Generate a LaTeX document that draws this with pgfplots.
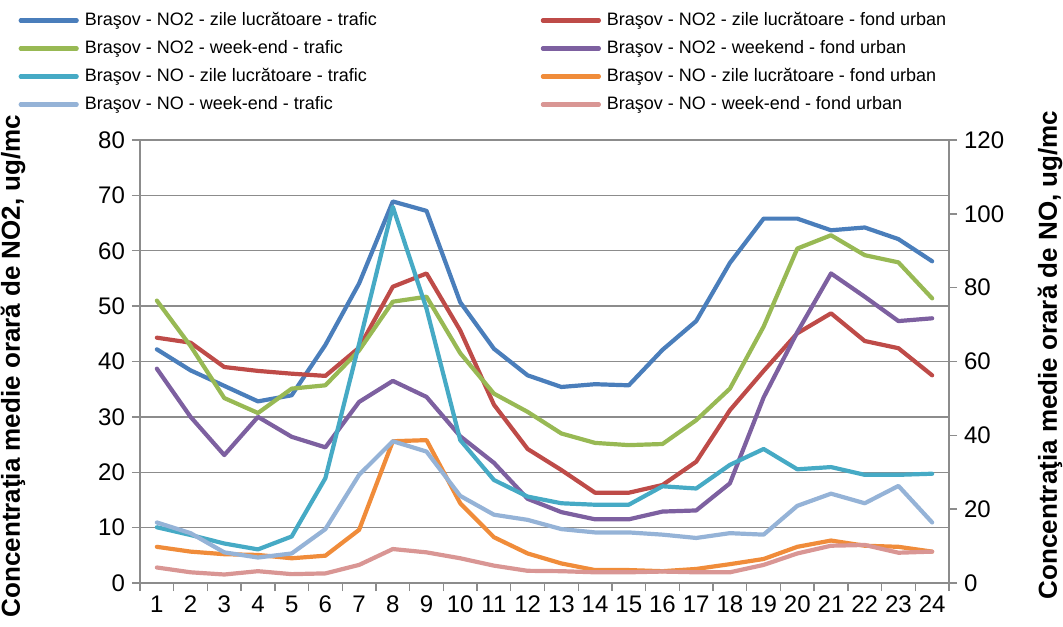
\documentclass[border=0pt]{standalone}
\usepackage{fontspec}
\setmainfont{Liberation Sans}
\usepackage{pgfplots}
\pgfplotsset{compat=1.18}
\definecolor{cBlue}{HTML}{4A7EBB}
\definecolor{cRed}{HTML}{BE4B48}
\definecolor{cGreen}{HTML}{98B954}
\definecolor{cPurple}{HTML}{7D60A0}
\definecolor{cCyan}{HTML}{46AAC5}
\definecolor{cOrange}{HTML}{F08C3A}
\definecolor{cLBlue}{HTML}{95B3D7}
\definecolor{cPink}{HTML}{D99694}
\definecolor{gridgray}{HTML}{8C8C8C}
\begin{document}
\begin{tikzpicture}
\pgfplotsset{
  every axis/.append style={
    scale only axis, width=404.5pt, height=221.5pt,
    xmin=0.5, xmax=24.5,
    /pgf/number format/assume math mode=true,
    tick label style={font=\fontsize{12}{14}\selectfont},
    label style={font=\bfseries\fontsize{13}{15}\selectfont},
    axis line style={color=gridgray, line width=0.7pt},
    tick style={color=gridgray, line width=0.7pt},
    major tick length=4pt,
    tick align=outside,
  },
  ser/.style={line width=2.1pt, line join=round, line cap=round},
}
\begin{axis}[
  ymin=0, ymax=80, ytick={0,10,...,80},
  axis x line*=bottom, axis y line*=left,
  ymajorgrids, grid style={color=gridgray, line width=0.7pt},
  xtick={0.5,1.5,...,24.5}, xticklabels={},
  extra x ticks={1,2,...,24},
  extra x tick style={major tick length=0pt, tick label style={yshift=-3pt}},
  ylabel={Concentraţia medie orară de NO2, ug/mc},
  ylabel style={at={(rel axis cs:-0.157,0.49)}, anchor=center},
]
\addplot[ser, cBlue] coordinates {(1,42.2)(2,38.4)(3,35.6)(4,32.8)(5,33.9)(6,43.0)(7,54.1)(8,68.9)(9,67.2)(10,50.7)(11,42.3)(12,37.5)(13,35.4)(14,35.9)(15,35.7)(16,42.1)(17,47.3)(18,57.8)(19,65.8)(20,65.8)(21,63.7)(22,64.2)(23,62.1)(24,58.1)};
\addplot[ser, cRed] coordinates {(1,44.3)(2,43.4)(3,39.0)(4,38.3)(5,37.8)(6,37.4)(7,42.5)(8,53.5)(9,55.9)(10,45.6)(11,32.2)(12,24.2)(13,20.4)(14,16.3)(15,16.3)(16,17.7)(17,21.9)(18,31.2)(19,38.3)(20,45.1)(21,48.7)(22,43.7)(23,42.4)(24,37.5)};
\addplot[ser, cGreen] coordinates {(1,51.0)(2,42.8)(3,33.4)(4,30.7)(5,35.1)(6,35.7)(7,42.0)(8,50.8)(9,51.7)(10,41.5)(11,34.2)(12,30.9)(13,27.0)(14,25.3)(15,24.9)(16,25.1)(17,29.4)(18,35.1)(19,46.3)(20,60.4)(21,62.8)(22,59.2)(23,57.9)(24,51.4)};
\addplot[ser, cPurple] coordinates {(1,38.7)(2,30.0)(3,23.1)(4,30.0)(5,26.4)(6,24.5)(7,32.7)(8,36.5)(9,33.6)(10,26.5)(11,21.7)(12,15.2)(13,12.8)(14,11.5)(15,11.5)(16,12.9)(17,13.1)(18,18.0)(19,33.5)(20,45.3)(21,55.9)(22,51.7)(23,47.3)(24,47.8)};
\end{axis}
\begin{axis}[
  ymin=0, ymax=120, ytick={0,20,...,120},
  axis y line*=right, axis x line=none,
  ylabel={Concentraţia medie orară de NO, ug/mc},
  ylabel style={at={(rel axis cs:1.125,0.515)}, anchor=center, rotate=0},
  legend columns=2,
  legend cell align=left,
  legend image code/.code={\draw[#1] (0pt,0pt) -- (28pt,0pt);},
  legend style={at={(rel axis cs:-0.158,1.30)}, anchor=north west, draw=none, fill=none,
    font=\fontsize{9}{10}\selectfont,
    nodes={inner sep=0pt, text height=7pt, text depth=2pt},
    row sep=5pt,
    /tikz/every odd column/.append style={column sep=3pt}},
]
\addlegendimage{ser, cBlue}
\addlegendentry{\makebox[228pt][l]{Braşov - NO2 - zile lucrătoare - trafic}}
\addlegendimage{ser, cRed}
\addlegendentry{Braşov - NO2 - zile lucrătoare - fond urban}
\addlegendimage{ser, cGreen}
\addlegendentry{\makebox[228pt][l]{Braşov - NO2 - week-end - trafic}}
\addlegendimage{ser, cPurple}
\addlegendentry{Braşov - NO2 - weekend - fond urban}
\addplot[ser, cCyan] coordinates {(1,15.1)(2,13.0)(3,10.7)(4,9.1)(5,12.6)(6,28.4)(7,64.8)(8,101.9)(9,74.3)(10,38.7)(11,27.9)(12,23.4)(13,21.6)(14,21.2)(15,21.2)(16,26.2)(17,25.6)(18,32.0)(19,36.3)(20,30.8)(21,31.4)(22,29.3)(23,29.3)(24,29.6)};
\addlegendentry{\makebox[228pt][l]{Braşov - NO - zile lucrătoare - trafic}}
\addplot[ser, cOrange] coordinates {(1,9.8)(2,8.5)(3,7.8)(4,7.6)(5,6.7)(6,7.4)(7,14.4)(8,38.4)(9,38.7)(10,21.6)(11,12.4)(12,8.0)(13,5.3)(14,3.5)(15,3.5)(16,3.2)(17,3.8)(18,5.1)(19,6.5)(20,9.8)(21,11.5)(22,10.1)(23,9.8)(24,8.5)};
\addlegendentry{Braşov - NO - zile lucrătoare - fond urban}
\addplot[ser, cLBlue] coordinates {(1,16.4)(2,13.5)(3,8.3)(4,6.9)(5,8.0)(6,14.6)(7,29.3)(8,38.4)(9,35.6)(10,23.6)(11,18.5)(12,17.1)(13,14.6)(14,13.7)(15,13.7)(16,13.1)(17,12.2)(18,13.5)(19,13.1)(20,20.9)(21,24.2)(22,21.6)(23,26.3)(24,16.4)};
\addlegendentry{\makebox[228pt][l]{Braşov - NO - week-end - trafic}}
\addplot[ser, cPink] coordinates {(1,4.2)(2,2.9)(3,2.3)(4,3.2)(5,2.4)(6,2.6)(7,4.9)(8,9.2)(9,8.3)(10,6.7)(11,4.7)(12,3.3)(13,3.2)(14,2.9)(15,2.9)(16,3.1)(17,2.9)(18,2.9)(19,4.9)(20,8.0)(21,10.1)(22,10.3)(23,8.2)(24,8.5)};
\addlegendentry{Braşov - NO - week-end - fond urban}
\end{axis}
\pgfresetboundingbox
\path (-70pt,-21.5pt) rectangle (461.5pt,291.5pt);
\end{tikzpicture}
\end{document}
